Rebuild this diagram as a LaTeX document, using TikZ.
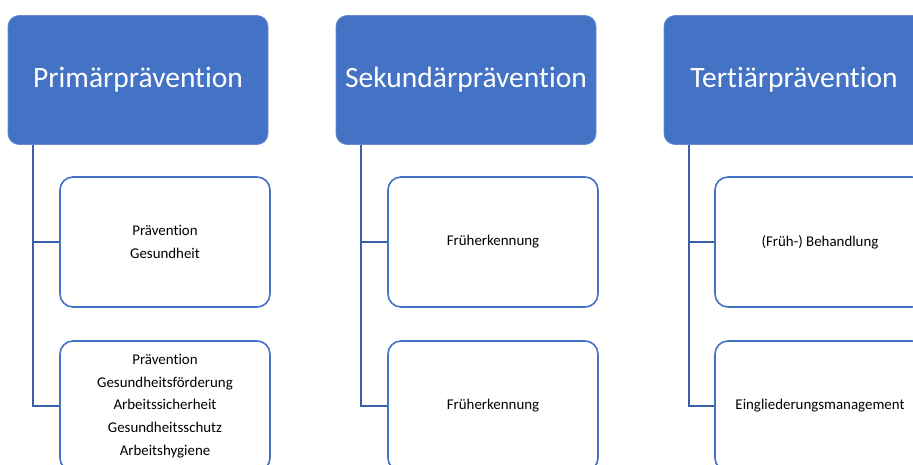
\documentclass[tikz,border=0pt]{standalone}
\usepackage{fontspec}
\setmainfont{Carlito}[Ligatures=NoCommon]
\definecolor{headblue}{HTML}{4472C4}
\definecolor{linkblue}{HTML}{3A5FA8}
\begin{document}
\begin{tikzpicture}[x=1pt,y=-1pt,
  head/.style={fill=headblue,draw=headblue!80!white,line width=0.8pt,rounded corners=11pt,
    minimum width=260pt,minimum height=129pt,inner sep=0pt,text=white,
    font=\fontsize{29.5}{34}\selectfont},
  item/.style={fill=white,draw=headblue,line width=1.6pt,rounded corners=13pt,
    minimum width=210pt,minimum height=130pt,inner sep=0pt,align=center,
    font=\fontsize{14.9}{22.7}\selectfont},
  link/.style={draw=linkblue,line width=2pt}]
\clip (0,0) rectangle (913,464);
\fill[white] (0,0) rectangle (913,464);

% column 1
\node[head] (h1) at (138,80) {Primärprävention};
\node[item] (a1) at (165,242) {Prävention\\Gesundheit};
\node[item] (a2) at (165,406) {Prävention\\Gesundheitsförderung\\Arbeitssicherheit\\Gesundheitsschutz\\Arbeitshygiene};

% column 2
\node[head] (h2) at (466,80) {Sekundärprävention};
\node[item] (b1) at (493,242) {Früherkennung};
\node[item] (b2) at (493,406) {Früherkennung};

% column 3
\node[head] (h3) at (794,80) {Tertiärprävention};
\node[item] (c1) at (820,242) {(Früh-) Behandlung};
\node[item] (c2) at (820,406) {Eingliederungsmanagement};

% connectors
\foreach \h/\u/\v in {h1/a1/a2,h2/b1/b2,h3/c1/c2}{
  \draw[link] ([xshift=25pt]\h.south west) |- (\u.west);
  \draw[link] ([xshift=25pt]\h.south west) |- (\v.west);
}
\end{tikzpicture}
\end{document}
